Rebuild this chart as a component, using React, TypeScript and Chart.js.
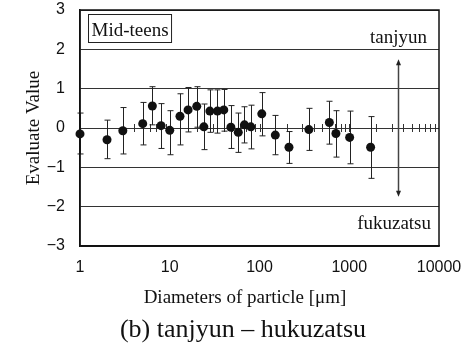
import React, { useEffect, useRef } from 'react';
import { Chart, registerables } from 'chart.js';

Chart.register(...registerables);

// Particle diameters [µm] (x) and evaluation means with error-bar limits (y)
const diameters = [1, 2, 3, 5, 6.4, 8, 10, 13, 16, 20, 24, 28, 34, 40, 48, 58, 68, 80, 106, 150, 213, 355, 600, 710, 1010, 1730];
const meanValues = [-0.15, -0.3, -0.07, 0.11, 0.56, 0.06, -0.06, 0.3, 0.46, 0.55, 0.03, 0.43, 0.43, 0.46, 0.02, -0.11, 0.08, 0.03, 0.36, -0.18, -0.49, -0.04, 0.14, -0.14, -0.24, -0.49];
const upperValues = [0.38, 0.2, 0.52, 0.65, 1.05, 0.62, 0.44, 0.87, 1.03, 1.05, 0.61, 0.97, 0.97, 0.98, 0.57, 0.38, 0.54, 0.58, 0.9, 0.32, -0.09, 0.5, 0.68, 0.44, 0.43, 0.29];
const lowerValues = [-0.66, -0.78, -0.66, -0.43, 0.08, -0.52, -0.68, -0.43, -0.1, 0.02, -0.55, -0.11, -0.13, -0.08, -0.52, -0.62, -0.38, -0.53, -0.2, -0.68, -0.9, -0.57, -0.41, -0.74, -0.91, -1.28];

// Axis ticks
const xDecades = [1, 10, 100, 1000];
const xMultipliers = [1, 2, 3, 4, 5, 6, 7, 8, 9];
const xMax = 10000;
const yTicks = [-3, -2, -1, 0, 1, 2, 3];

// Double arrow (tanjyun <-> fukuzatsu)
const arrowX = 3500;
const arrowTop = 1.75;
const arrowBottom = -1.75;

const labelTop = 'tanjyun';
const labelBottom = 'fukuzatsu';
const boxLabel = 'Mid-teens';
const yTitle = 'Evaluate Value';
const xTitle = 'Diameters of particle [\u03bcm]';
const caption = '(b) tanjyun \u2013 hukuzatsu';

const SERIF = '"Liberation Serif", "Times New Roman", serif';
const SANS = '"Liberation Sans", Arial, sans-serif';

const overlayPlugin = {
  id: 'overlay',
  beforeDatasetsDraw(chart: any) {
    const { ctx, chartArea, scales } = chart;
    const x = scales.x;
    const y = scales.y;
    ctx.save();
    // tick marks crossing the zero line
    const y0 = y.getPixelForValue(0);
    ctx.strokeStyle = '#333';
    ctx.lineWidth = 1;
    x.ticks.forEach((t: any) => {
      const px = Math.round(x.getPixelForValue(t.value)) + 0.5;
      if (px <= chartArea.left + 1 || px >= chartArea.right - 1) return;
      ctx.beginPath();
      ctx.moveTo(px, y0 - 4);
      ctx.lineTo(px, y0 + 4);
      ctx.stroke();
    });
    // error bars
    ctx.strokeStyle = '#222';
    ctx.lineWidth = 1;
    diameters.forEach((d, i) => {
      const px = Math.round(x.getPixelForValue(d)) + 0.5;
      const top = y.getPixelForValue(upperValues[i]);
      const bot = y.getPixelForValue(lowerValues[i]);
      ctx.beginPath();
      ctx.moveTo(px, top);
      ctx.lineTo(px, bot);
      ctx.moveTo(px - 3, top);
      ctx.lineTo(px + 3, top);
      ctx.moveTo(px - 3, bot);
      ctx.lineTo(px + 3, bot);
      ctx.stroke();
    });
    // double arrow
    const ax = Math.round(x.getPixelForValue(arrowX)) + 0.5;
    const at = y.getPixelForValue(arrowTop);
    const ab = y.getPixelForValue(arrowBottom);
    ctx.strokeStyle = '#444';
    ctx.fillStyle = '#222';
    ctx.lineWidth = 1.5;
    ctx.beginPath();
    ctx.moveTo(ax, at + 4);
    ctx.lineTo(ax, ab - 4);
    ctx.stroke();
    ctx.beginPath();
    ctx.moveTo(ax, at);
    ctx.lineTo(ax - 2.5, at + 6);
    ctx.lineTo(ax + 2.5, at + 6);
    ctx.closePath();
    ctx.fill();
    ctx.beginPath();
    ctx.moveTo(ax, ab);
    ctx.lineTo(ax - 2.5, ab - 6);
    ctx.lineTo(ax + 2.5, ab - 6);
    ctx.closePath();
    ctx.fill();
    ctx.restore();
  },
  afterDraw(chart: any) {
    const { ctx, chartArea, scales } = chart;
    const y = scales.y;
    ctx.save();
    // frame
    ctx.strokeStyle = '#111';
    ctx.lineWidth = 1.5;
    ctx.strokeRect(chartArea.left, chartArea.top, chartArea.right - chartArea.left, chartArea.bottom - chartArea.top);
    ctx.fillStyle = '#111';
    ctx.font = '19px ' + SERIF;
    // box label
    const tw = ctx.measureText(boxLabel).width;
    const bx = chartArea.left + 8.5;
    const by = chartArea.top + 4.5;
    ctx.lineWidth = 1;
    ctx.strokeStyle = '#222';
    ctx.fillStyle = '#fff';
    ctx.fillRect(bx, by, tw + 6, 28);
    ctx.strokeRect(bx, by, tw + 6, 28);
    ctx.fillStyle = '#111';
    ctx.textAlign = 'left';
    ctx.textBaseline = 'alphabetic';
    ctx.fillText(boxLabel, bx + 3, by + 21);
    // tanjyun / fukuzatsu
    ctx.textAlign = 'right';
    ctx.fillText(labelTop, chartArea.right - 12, y.getPixelForValue(2) - 6);
    ctx.fillText(labelBottom, chartArea.right - 8, y.getPixelForValue(-2) + 22);
    // x title and caption
    ctx.textAlign = 'center';
    ctx.textBaseline = 'middle';
    ctx.fillText(xTitle, 245, 298);
    ctx.font = '26px ' + SERIF;
    ctx.fillText(caption, 243, 330);
    ctx.restore();
  },
};

export default function App() {
  const canvasRef = useRef<HTMLCanvasElement | null>(null);

  useEffect(() => {
    if (!canvasRef.current) return;
    const chart = new Chart(canvasRef.current, {
      type: 'scatter',
      data: {
        datasets: [
          {
            data: diameters.map((d, i) => ({ x: d, y: meanValues[i] })),
            backgroundColor: '#111',
            borderColor: '#111',
            borderWidth: 0,
            pointRadius: 4.5,
            pointHoverRadius: 4.5,
            clip: false as any,
          },
        ],
      },
      options: {
        responsive: false,
        animation: false,
        events: [],
        layout: { padding: { top: 10, right: 34, left: 0, bottom: 0 } },
        plugins: {
          legend: { display: false },
          tooltip: { enabled: false },
          title: { display: false },
        },
        scales: {
          x: {
            type: 'logarithmic',
            min: 1,
            max: xMax,
            afterBuildTicks: (scale: any) => {
              const vals: number[] = [];
              xDecades.forEach((d) => xMultipliers.forEach((m) => vals.push(d * m)));
              vals.push(xMax);
              scale.ticks = vals.map((v) => ({ value: v }));
            },
            afterFit: (scale: any) => {
              scale.height = 98;
              scale.paddingLeft = 0;
              scale.paddingRight = 0;
            },
            grid: { display: false, drawTicks: false },
            border: { display: true, color: '#111', width: 1.5 },
            ticks: {
              autoSkip: false,
              maxRotation: 0,
              padding: 12,
              color: '#111',
              font: { family: SANS, size: 16 },
              callback: (v: any) => {
                const l = Math.log10(Number(v));
                return Math.abs(l - Math.round(l)) < 1e-9 ? String(Math.round(Number(v))) : '';
              },
            },
          },
          y: {
            min: -3,
            max: 3,
            afterBuildTicks: (scale: any) => {
              scale.ticks = yTicks.map((v) => ({ value: v }));
            },
            afterFit: (scale: any) => {
              scale.width = 80;
              scale.paddingTop = 0;
              scale.paddingBottom = 0;
            },
            grid: { color: '#333', lineWidth: 1, drawTicks: false },
            border: { display: true, color: '#111', width: 1.5 },
            ticks: {
              padding: 15,
              color: '#111',
              font: { family: SANS, size: 16 },
              callback: (v: any) => (Number(v) < 0 ? '\u2212' + Math.abs(Number(v)) : String(v)),
            },
            title: {
              display: true,
              text: yTitle,
              color: '#111',
              font: { family: SERIF, size: 19 },
              padding: { top: 23, bottom: 0 },
            },
          },
        },
      },
      plugins: [overlayPlugin],
    });
    return () => chart.destroy();
  }, []);

  return (
    <div style={{ position: 'fixed', left: 0, top: 0, width: 473, height: 344, background: '#fff' }}>
      <canvas ref={canvasRef} width={473} height={344} style={{ display: 'block' }} />
    </div>
  );
}
